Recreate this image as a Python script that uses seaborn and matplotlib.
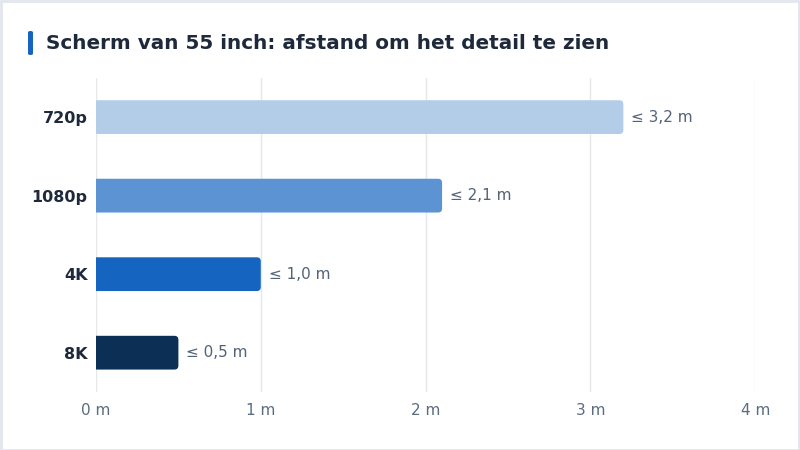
import matplotlib
matplotlib.use("Agg")
import matplotlib.pyplot as plt
import matplotlib.ticker as mticker
from matplotlib.patches import FancyBboxPatch, Rectangle
import pandas as pd
import seaborn as sns

# Données
resoluties = ["720p", "1080p", "4K", "8K"]
afstand_m = [3.2, 2.1, 1.0, 0.5]
labels = ["≤ 3,2 m", "≤ 2,1 m", "≤ 1,0 m", "≤ 0,5 m"]
kleuren = ["#b3cde9", "#5b93d3", "#1565c0", "#0b2f55"]
titel = "Scherm van 55 inch: afstand om het detail te zien"

df = pd.DataFrame({"res": resoluties, "m": afstand_m})

sns.set_theme(style="white")
plt.rcParams["font.family"] = ["DejaVu Sans"]

fig = plt.figure(figsize=(8, 4.5), dpi=100)
ax = fig.add_axes([0.12, 0.129, 0.824, 0.698])

sns.barplot(data=df, y="res", x="m", hue="res", palette=kleuren,
            width=0.43, legend=False, ax=ax, saturation=1)

# afgeronde hoeken aan de rechterkant
x_px = 659 / 4.0
y_px = 314 / 4.0
r = 4 / x_px
for bar in list(ax.patches):
    x, y = bar.get_x(), bar.get_y()
    w, h = bar.get_width(), bar.get_height()
    fb = FancyBboxPatch((x - r * 2, y), w + r * 2, h,
                        boxstyle=f"round,pad=0,rounding_size={r}",
                        mutation_aspect=x_px / y_px,
                        facecolor=bar.get_facecolor(), edgecolor="none", zorder=3)
    ax.add_patch(fb)
    bar.remove()

for i, (v, t) in enumerate(zip(afstand_m, labels)):
    ax.text(v + 8 / x_px, i, t, va="center", ha="left", fontsize=11, color="#526277")

ax.set_xlim(0, 4)
ax.set_ylim(3.5, -0.5)
ax.xaxis.set_major_locator(mticker.MultipleLocator(1))
ax.xaxis.set_major_formatter(mticker.FuncFormatter(lambda x, _: f"{x:.0f} m"))
ax.grid(axis="x", color="#e5e7eb", linewidth=1)
ax.set_axisbelow(True)
for s in ax.spines.values():
    s.set_visible(False)
ax.set_xlabel("")
ax.set_ylabel("")
ax.tick_params(axis="x", length=0, pad=8, labelsize=11, labelcolor="#5b6b80")
ax.tick_params(axis="y", length=0, pad=6, labelsize=11.5)
for lab in ax.get_yticklabels():
    lab.set_fontweight("bold")
    lab.set_color("#1e293b")

# titel met accentstreep
fig.patches.append(FancyBboxPatch((28 / 800, 1 - 55 / 450), 5 / 800, 24 / 450,
                                  boxstyle="round,pad=0,rounding_size=0.003",
                                  transform=fig.transFigure, facecolor="#1565c0",
                                  edgecolor="none"))
fig.text(46 / 800, 1 - 43.5 / 450, titel, fontsize=14.4, fontweight="bold",
         color="#1e293b", va="center", ha="left")

# rand
fig.patches.append(Rectangle((0.001, 0.001), 0.998, 0.997, transform=fig.transFigure,
                             facecolor="none", edgecolor="#e2e6ec", linewidth=2))

fig.savefig("out.png", dpi=100)
